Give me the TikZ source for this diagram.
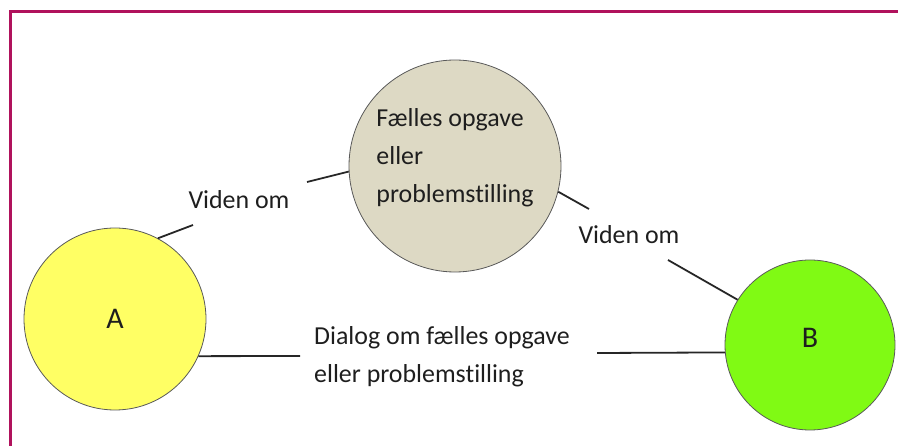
\documentclass[tikz,border=0pt]{standalone}
\usepackage{fontspec}
\setmainfont{Carlito}[Ligatures=NoCommon]
\usepackage{tikz}
\definecolor{framered}{RGB}{176,18,92}
\definecolor{partyyellow}{RGB}{255,255,100}
\definecolor{partygreen}{RGB}{128,250,20}
\definecolor{taskbeige}{RGB}{221,217,196}
\definecolor{textgray}{RGB}{30,30,30}

\begin{document}
\begin{tikzpicture}[x=1pt, y=-1pt,
    party/.style={circle, draw=black!65, line width=0.8pt, inner sep=0pt,
      text=textgray, font=\fontsize{30}{38}\selectfont},
    lbl/.style={text=textgray, font=\fontsize{25.9}{38}\selectfont, align=left, inner sep=0pt},
    link/.style={line width=1.8pt, black!85}]
  \useasboundingbox (0,0) rectangle (898,446);
  \draw[framered, line width=3pt] (10,446) -- (10,12) -- (898,12);

  \node (A) [party, fill=partyyellow, minimum size=182pt] at (115,319) {A};
  \node (B) [party, fill=partygreen, minimum size=170pt, text depth=14pt] at (810,345) {B};
  \node (C) [party, fill=taskbeige, minimum size=212pt] at (455,166) {};
  \node (Ctext) [lbl] at ([yshift=8pt]C.center) {Fælles opgave\\eller\\problemstilling};

  \node (vidA) [lbl] at (239,200) {Viden om};
  \node (vidB) [lbl] at (629,235) {Viden om};
  \node (dialog) [lbl] at (442,357) {Dialog om fælles opgave\\eller problemstilling};

  \coordinate (vA1) at (193,225);
  \coordinate (vA2) at (307,182);
  \coordinate (vB1) at (589,209);
  \coordinate (vB2) at (668,260);
  \coordinate (d1) at (300,356);
  \coordinate (d2) at (597,353);

  \draw[link] (A.62) -- (vA1);
  \draw[link] (vA2) -- (C.183);
  \draw[link] (C.346) -- (vB1);
  \draw[link] (vB2) -- (B.148);
  \draw[link] (A.336) -- (d1);
  \draw[link] (d2) -- (B.185);
\end{tikzpicture}
\end{document}
